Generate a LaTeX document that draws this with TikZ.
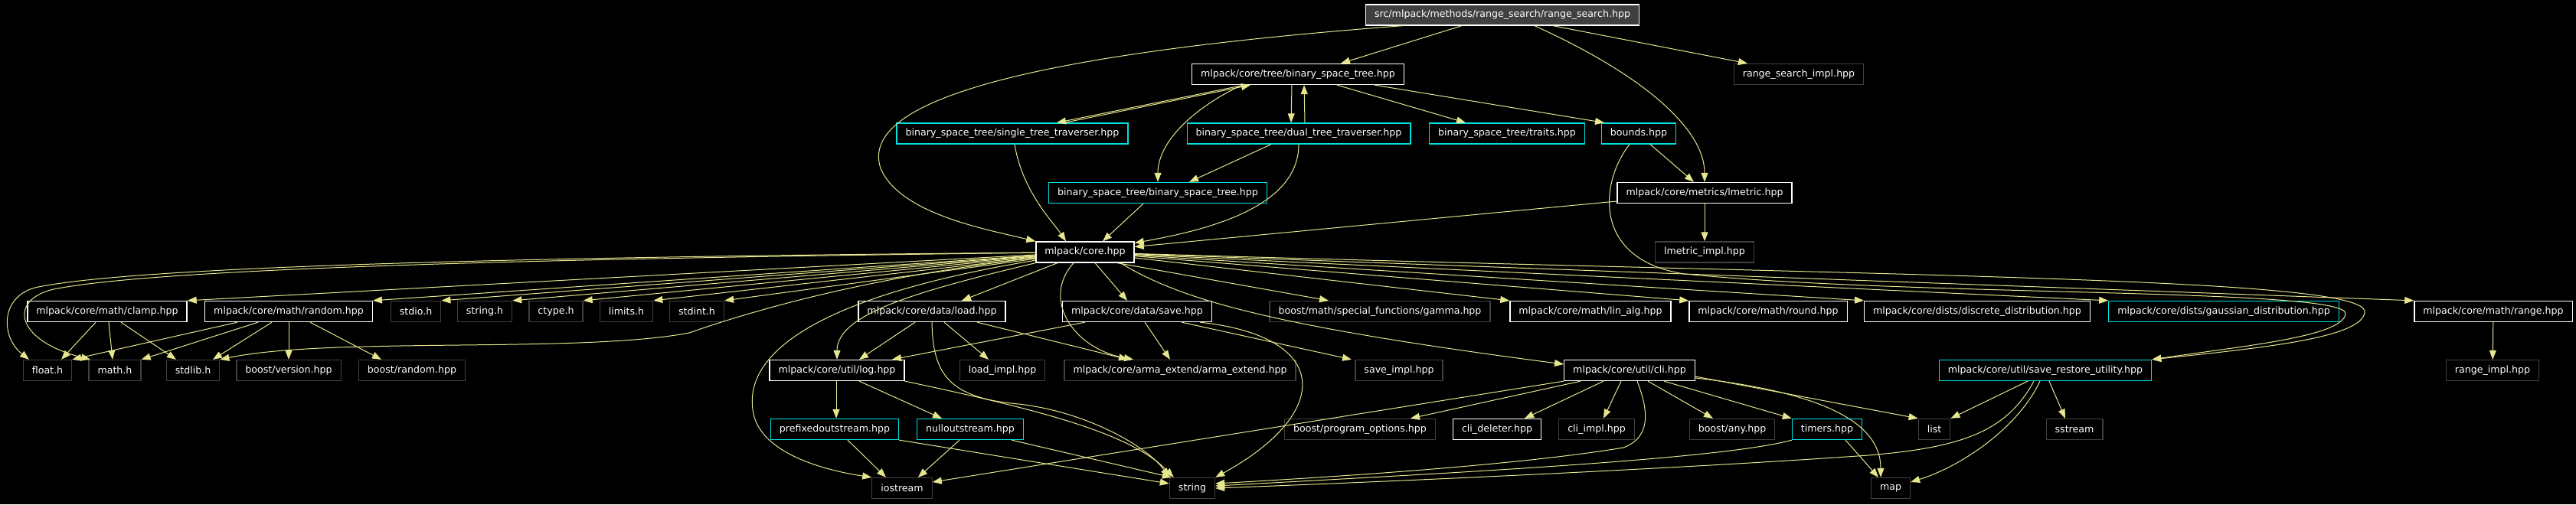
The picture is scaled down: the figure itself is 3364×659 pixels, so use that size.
\documentclass[tikz,border=0pt]{standalone}
\usepackage{fontspec}
\usetikzlibrary{arrows.meta}

\newfontfamily\dejavu{DejaVu Sans}
\newcommand{\graphfont}{\dejavu\fontsize{12.6pt}{15pt}\selectfont}

\definecolor{edgeyellow}{HTML}{E6E68F}
\definecolor{sysgray}{HTML}{404040}
\definecolor{cutcyan}{HTML}{00E0E0}

\begin{document}
\begin{tikzpicture}[
  x=1pt, y=-1pt,
  file/.style={draw, rectangle, fill=black, text=white, font=\graphfont,
    minimum height=27pt, inner xsep=11.5pt, inner ysep=0pt, line width=1.3pt},
  docf/.style={file, draw=white},
  sysf/.style={file, draw=sysgray},
  cutf/.style={file, draw=cutcyan},
  rootf/.style={file, draw=white, fill=sysgray},
  inc/.style={-{Triangle[length=12pt, width=9pt]}, draw=edgeyellow, line width=1pt}
]
  \useasboundingbox (0,0) rectangle (3364,659);
  \fill[black] (0,0) rectangle (3364,659);

  % Root and tree headers
  \node[rootf] (rs) at (1962,19.5) {src/mlpack/methods/range\_search/range\_search.hpp};
  \node[docf] (bst) at (1695,97) {mlpack/core/tree/binary\_space\_tree.hpp};
  \node[sysf] (rsimpl) at (2349,97) {range\_search\_impl.hpp};
  \node[cutf] (stt) at (1322,174.5) {binary\_space\_tree/single\_tree\_traverser.hpp};
  \node[cutf] (dtt) at (1696,174.5) {binary\_space\_tree/dual\_tree\_traverser.hpp};
  \node[cutf] (traits) at (1968,174.5) {binary\_space\_tree/traits.hpp};
  \node[cutf] (bounds) at (2140,174.5) {bounds.hpp};
  \node[cutf] (bstbst) at (1512,252) {binary\_space\_tree/binary\_space\_tree.hpp};
  \node[docf] (lmetric) at (2226,252) {mlpack/core/metrics/lmetric.hpp};
  \node[docf] (core) at (1417,329.5) {mlpack/core.hpp};
  \node[sysf] (lmetricimpl) at (2226,329.5) {lmetric\_impl.hpp};

  % Headers pulled in by core.hpp
  \node[docf] (clamp) at (140,407) {mlpack/core/math/clamp.hpp};
  \node[docf] (random) at (377,407) {mlpack/core/math/random.hpp};
  \node[sysf] (stdio) at (543,407) {stdio.h};
  \node[sysf] (stringh) at (633,407) {string.h};
  \node[sysf] (ctype) at (726,407) {ctype.h};
  \node[sysf] (limits) at (818,407) {limits.h};
  \node[sysf] (stdint) at (910,407) {stdint.h};
  \node[docf] (load) at (1217,407) {mlpack/core/data/load.hpp};
  \node[docf] (save) at (1485,407) {mlpack/core/data/save.hpp};
  \node[sysf] (gamma) at (1802,407) {boost/math/special\_functions/gamma.hpp};
  \node[docf] (linalg) at (2077,407) {mlpack/core/math/lin\_alg.hpp};
  \node[docf] (round) at (2309,407) {mlpack/core/math/round.hpp};
  \node[docf] (discrete) at (2582,407) {mlpack/core/dists/discrete\_distribution.hpp};
  \node[cutf] (gaussian) at (2904,407) {mlpack/core/dists/gaussian\_distribution.hpp};
  \node[docf] (range) at (3256,407) {mlpack/core/math/range.hpp};

  \node[sysf] (floath) at (62,484) {float.h};
  \node[sysf] (mathh) at (150,484) {math.h};
  \node[sysf] (stdlib) at (252,484) {stdlib.h};
  \node[sysf] (bversion) at (377,484) {boost/version.hpp};
  \node[sysf] (brandom) at (538,484) {boost/random.hpp};
  \node[docf] (log) at (1093,484) {mlpack/core/util/log.hpp};
  \node[sysf] (loadimpl) at (1309,484) {load\_impl.hpp};
  \node[sysf] (arma) at (1541,484) {mlpack/core/arma\_extend/arma\_extend.hpp};
  \node[sysf] (saveimpl) at (1827,484) {save\_impl.hpp};
  \node[docf] (cli) at (2128,484) {mlpack/core/util/cli.hpp};
  \node[cutf] (sru) at (2671,484) {mlpack/core/util/save\_restore\_utility.hpp};
  \node[sysf] (rangeimpl) at (3255,484) {range\_impl.hpp};

  \node[cutf] (prefixed) at (1090,561) {prefixedoutstream.hpp};
  \node[cutf] (nullout) at (1267,561) {nulloutstream.hpp};
  \node[sysf] (progopt) at (1776,561) {boost/program\_options.hpp};
  \node[docf] (clidel) at (1955,561) {cli\_deleter.hpp};
  \node[sysf] (cliimpl) at (2085,561) {cli\_impl.hpp};
  \node[sysf] (bany) at (2262,561) {boost/any.hpp};
  \node[cutf] (timers) at (2386,561) {timers.hpp};
  \node[sysf] (list) at (2526,561) {list};
  \node[sysf] (sstream) at (2709,561) {sstream};

  \node[sysf] (iostream) at (1178,638) {iostream};
  \node[sysf] (string) at (1557,638) {string};
  \node[sysf] (map) at (2469,638) {map};

  % Includes of the root
  \draw[inc] ([xshift=-130pt]rs.south) .. controls (1350,70) and (1120,130) .. (1150,220)
    .. controls (1175,280) and (1290,300) .. (core.north west);
  \draw[inc] ([xshift=-53pt]rs.south) -- ([xshift=56pt]bst.north);
  \draw[inc] ([xshift=42pt]rs.south) .. controls (2150,100) and (2226,170) .. (lmetric.north);
  \draw[inc] ([xshift=66pt]rs.south) -- ([xshift=-67pt]rsimpl.north);

  % Tree headers
  \draw[inc] ([xshift=-70pt]bst.south) -- ([xshift=58pt]stt.north);
  \draw[inc] ([xshift=68pt]stt.north) -- ([xshift=-62pt]bst.south);
  \draw[inc] ([xshift=-8pt]bst.south) -- ([xshift=-10pt]dtt.north);
  \draw[inc] ([xshift=8pt]dtt.north) -- ([xshift=8pt]bst.south);
  \draw[inc] ([xshift=51pt]bst.south) -- ([xshift=-54pt]traits.north);
  \draw[inc] ([xshift=100pt]bst.south) -- ([xshift=-45pt]bounds.north);
  \draw[inc] ([xshift=-73pt]bst.south) .. controls (1560,140) and (1512,185) .. (bstbst.north);
  \draw[inc] ([xshift=3pt]stt.south) .. controls (1335,250) and (1375,290) .. ([xshift=-25pt]core.north);
  \draw[inc] ([xshift=-36pt]dtt.south) -- ([xshift=41pt]bstbst.north);
  \draw[inc] (dtt.south) .. controls (1696,270) and (1580,300) .. ([yshift=12pt]core.east);
  \draw[inc] ([xshift=-19pt]bstbst.south) -- ([xshift=23pt]core.north);
  \draw[inc] ([xshift=15pt]bounds.south) -- ([xshift=-14pt]lmetric.north);
  \draw[inc] ([xshift=-12pt]bounds.south) .. controls (2088,240) and (2080,340) .. (2200,358)
    .. controls (2500,388) and (3066,376) .. (3063,410)
    .. controls (3060,440) and (2930,452) .. (sru.north east);
  \draw[inc] ([yshift=-11pt]lmetric.west) -- ([yshift=7pt]core.east);
  \draw[inc] (lmetric) -- (lmetricimpl);

  % core.hpp, left side
  \draw[inc] (core) .. controls (800,335) and (200,345) .. (50,375)
    .. controls (0,385) and (0,440) .. ([xshift=-24pt]floath.north);
  \draw[inc] (core) .. controls (800,337) and (220,348) .. (70,378)
    .. controls (10,392) and (20,445) .. ([xshift=-32pt]mathh.north);
  \draw[inc] (core) -- (clamp.north east);
  \draw[inc] (core) -- (random.north east);
  \draw[inc] (core) -- (stdio.north east);
  \draw[inc] (core) -- (stringh.north east);
  \draw[inc] (core) -- (ctype.north east);
  \draw[inc] (core) -- (limits.north east);
  \draw[inc] (core) -- (stdint.north east);
  \draw[inc] (core) .. controls (1150,360) and (1000,400) .. (900,435)
    .. controls (760,462) and (430,440) .. (stdlib.north east);
  \draw[inc] (core.south west) .. controls (1200,380) and (1093,410) .. (log.north);
  \draw[inc] (core) .. controls (1050,390) and (965,470) .. (985,545)
    .. controls (1000,595) and (1080,615) .. (iostream.north west);

  % core.hpp, below and right
  \draw[inc] (core) -- ([xshift=39pt]load.north);
  \draw[inc] ([xshift=-15pt]core.south) .. controls (1360,390) and (1400,455) .. ([xshift=-61pt]arma.north);
  \draw[inc] ([xshift=13pt]core.south) -- ([xshift=-13pt]save.north);
  \draw[inc] ([xshift=42pt]core.south) -- ([xshift=-67pt]gamma.north);
  \draw[inc] ([xshift=46pt]core.south) .. controls (1540,390) and (1650,425) .. ([yshift=8pt]cli.west);
  \draw[inc] (core) -- (linalg.north west);
  \draw[inc] (core) -- (round.north west);
  \draw[inc] (core) -- (discrete.north west);
  \draw[inc] (core) -- (gaussian.north west);
  \draw[inc] (core) -- (range.north west);
  \draw[inc] (core) .. controls (2500,362) and (3092,362) .. (3088,408)
    .. controls (3085,442) and (2950,455) .. (sru.north east);

  % math headers
  \draw[inc] ([xshift=-15pt]clamp.south) -- ([xshift=18pt]floath.north);
  \draw[inc] ([xshift=2pt]clamp.south) -- ([xshift=-3pt]mathh.north);
  \draw[inc] ([xshift=18pt]clamp.south) -- ([xshift=-22pt]stdlib.north);
  \draw[inc] ([xshift=-67pt]random.south) -- (floath.north east);
  \draw[inc] ([xshift=-40pt]random.south) -- (mathh.north east);
  \draw[inc] ([xshift=-22pt]random.south) -- ([xshift=26pt]stdlib.north);
  \draw[inc] (random) -- (bversion);
  \draw[inc] ([xshift=28pt]random.south) -- ([xshift=-40pt]brandom.north);
  \draw[inc] (range) -- (rangeimpl);

  % data headers
  \draw[inc] ([xshift=-22pt]load.south) -- ([xshift=29pt]log.north);
  \draw[inc] ([xshift=16pt]load.south) -- ([xshift=-18pt]loadimpl.north);
  \draw[inc] ([xshift=59pt]load.south) -- ([xshift=-68pt]arma.north);
  \draw[inc] (load.south) .. controls (1218,490) and (1240,520) .. (1330,528)
    .. controls (1420,538) and (1500,585) .. (string.north west);
  \draw[inc] ([xshift=-68pt]save.south) -- ([xshift=72pt]log.north);
  \draw[inc] ([xshift=10pt]save.south) -- ([xshift=-13pt]arma.north);
  \draw[inc] ([xshift=58pt]save.south) -- ([xshift=-62pt]saveimpl.north);
  \draw[inc] ([xshift=82pt]save.south) .. controls (1740,440) and (1740,540) .. (string.north east);

  % util headers
  \draw[inc] ([xshift=-1pt]log.south) -- ([xshift=2pt]prefixed.north);
  \draw[inc] ([xshift=29pt]log.south) -- ([xshift=-37pt]nullout.north);
  \draw[inc] (log.south east) .. controls (1380,540) and (1480,570) .. ([xshift=6pt]string.north west);
  \draw[inc] ([xshift=17pt]prefixed.south) -- ([xshift=-21pt]iostream.north);
  \draw[inc] (prefixed.south east) -- ([yshift=6pt]string.west);
  \draw[inc] ([xshift=-14pt]nullout.south) -- ([xshift=21pt]iostream.north);
  \draw[inc] ([xshift=54pt]nullout.south) -- ([xshift=3pt]string.north west);

  \draw[inc] (cli.south west) -- ([yshift=8pt]iostream.east);
  \draw[inc] ([xshift=-64pt]cli.south) -- ([xshift=66pt]progopt.north);
  \draw[inc] ([xshift=-34pt]cli.south) -- ([xshift=36pt]clidel.north);
  \draw[inc] ([xshift=-11pt]cli.south) -- ([xshift=9pt]cliimpl.north);
  \draw[inc] ([xshift=10pt]cli.south) .. controls (2150,530) and (2160,570) .. (2120,585)
    .. controls (2000,605) and (1800,620) .. ([yshift=6pt]string.east);
  \draw[inc] ([xshift=24pt]cli.south) -- ([xshift=-25pt]bany.north);
  \draw[inc] ([xshift=45pt]cli.south) -- (timers.north west);
  \draw[inc] ([yshift=-8pt]cli.east) -- (list.north west);
  \draw[inc] ([yshift=-10pt]cli.east) .. controls (2400,515) and (2456,560) .. ([xshift=-13pt]map.north);

  \draw[inc] ([xshift=24pt]timers.south) -- ([xshift=-16pt]map.north);
  \draw[inc] (timers.south west) .. controls (2250,600) and (1900,618) .. ([yshift=3pt]string.east);

  \draw[inc] ([xshift=-23pt]sru.south) -- (list.north east);
  \draw[inc] ([xshift=5pt]sru.south) -- ([xshift=-12pt]sstream.north);
  \draw[inc] ([xshift=-7pt]sru.south) .. controls (2635,560) and (2560,610) .. ([yshift=8pt]map.east);
  \draw[inc] ([xshift=-15pt]sru.south) .. controls (2620,565) and (2560,585) .. (2440,595)
    .. controls (2200,612) and (1850,628) .. (string.east);
\end{tikzpicture}
\end{document}
